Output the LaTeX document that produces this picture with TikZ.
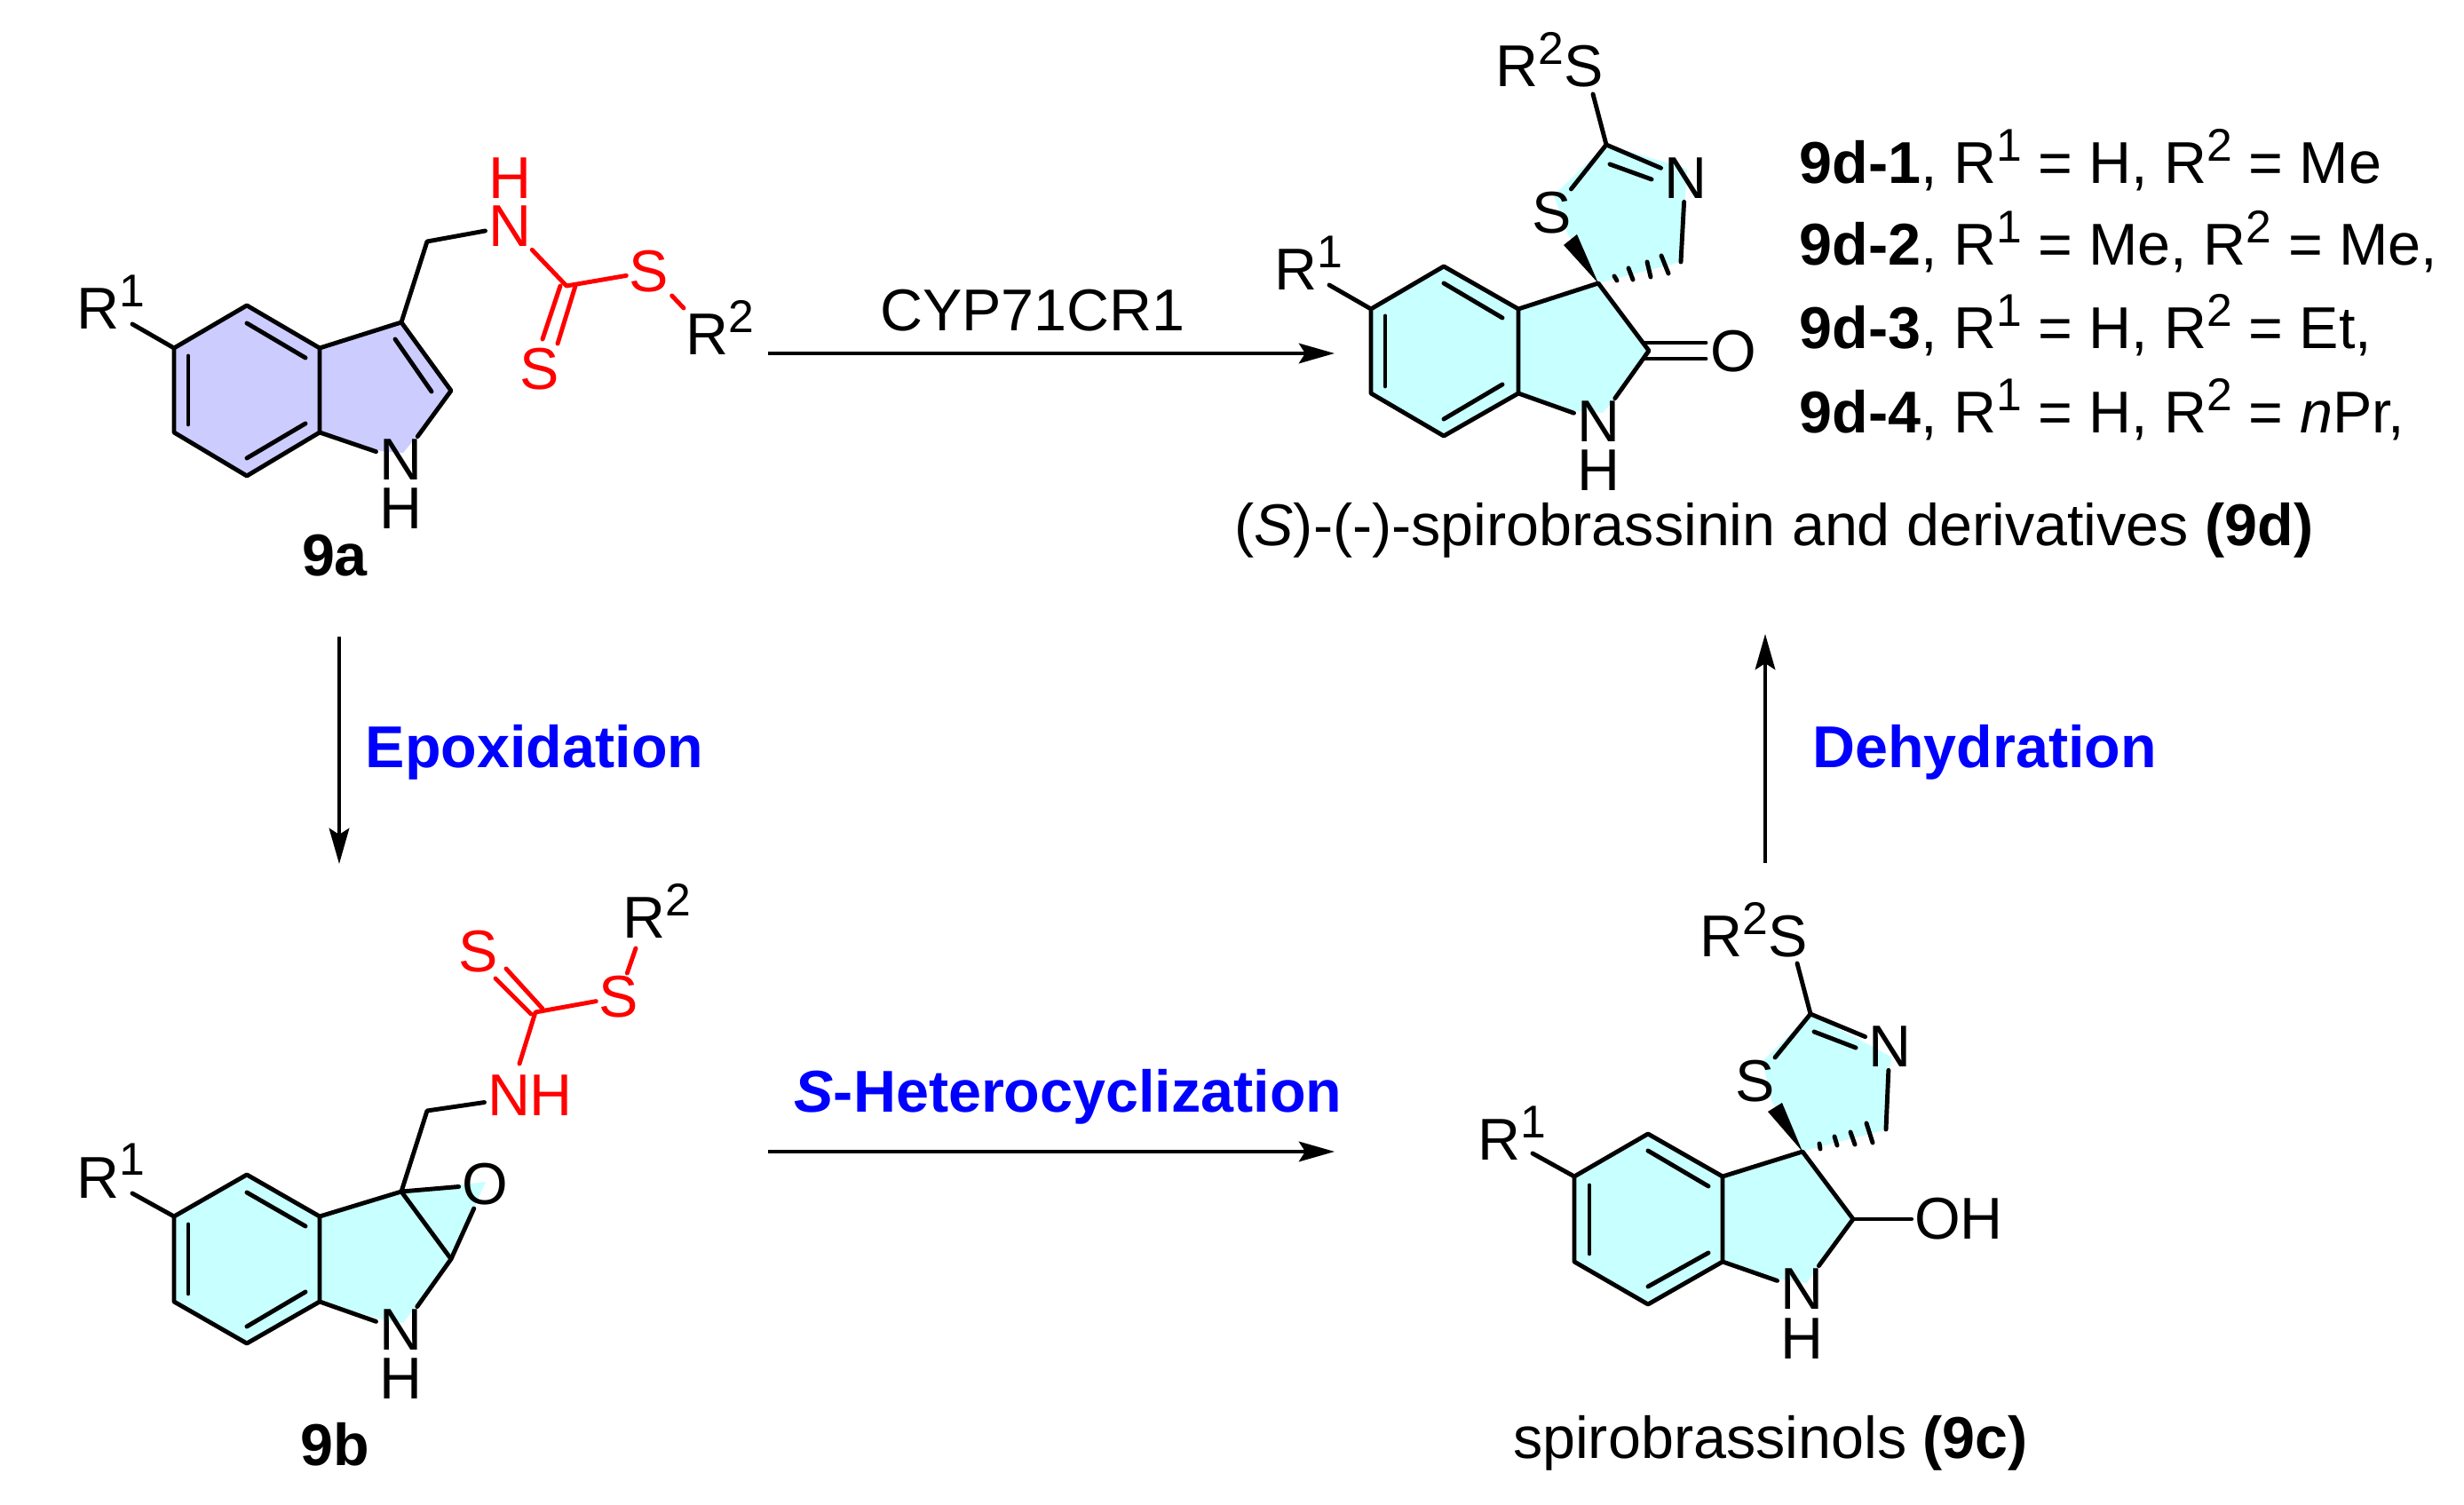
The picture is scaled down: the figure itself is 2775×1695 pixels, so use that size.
\documentclass[tikz,border=0pt]{standalone}
\usepackage{fontspec}
\setmainfont{Liberation Sans}
\usetikzlibrary{arrows.meta}
\newcommand{\chemfont}{\fontsize{18.9}{22}\selectfont}
\newcommand{\upnum}[1]{\raisebox{.39em}{\fontsize{14.7}{16}\selectfont #1}}
\definecolor{ringa}{RGB}{204,204,255}
\definecolor{ringb}{RGB}{200,255,255}
\begin{document}
\begin{tikzpicture}[x=0.01cm,y=0.01cm,
  bond/.style={line width=1.4pt,line cap=round,line join=round},
  rxn/.style={line width=1.2pt,-{Stealth[length=11.4pt,width=6.4pt,inset=2pt]}}]
\tikzstyle{every node}+=[inner sep=0.8pt,font=\chemfont]
\useasboundingbox (0,0) rectangle (2775,-1695);
\coordinate (a1) at (196,-392);
\coordinate (a2) at (278,-344);
\coordinate (a3) at (360,-392);
\coordinate (a4) at (360,-487);
\coordinate (a5) at (278,-536);
\coordinate (a6) at (196,-487);
\coordinate (a7) at (452,-363);
\coordinate (a8) at (508,-440);
\coordinate (a9) at (481,-272);
\coordinate (a10) at (638,-322);
\coordinate (aRe) at (149,-365);
\coordinate (aSe) at (770,-347);
\coordinate (ai1) at (278,-364);
\coordinate (ai2) at (344,-403);
\coordinate (ai3) at (278,-516);
\coordinate (ai4) at (344,-477);
\coordinate (ai5) at (212,-401);
\coordinate (ai6) at (212,-478);
\coordinate (ai7) at (445,-382);
\coordinate (ai8) at (486,-441);
\coordinate (ad1) at (631,-322);
\coordinate (ad2) at (611,-382);
\coordinate (ad3) at (648,-322);
\coordinate (ad4) at (628,-387);
\fill [ringa] (a1) -- (a2) -- (a3) -- (a7) -- (a8) -- (473,-487) -- (454,-510) -- (429,-508) -- (a4) -- (a5) -- (a6) -- cycle;
\node (aN) at (451,-518) {N};
\node (aH) at (451,-573) {H};
\node (aR1) [anchor=base west] at (83,-371) {R\upnum{1}};
\node (aNr) [red] at (574,-255) {N};
\node (aHr) [red] at (574,-201) {H};
\node (aS) [red] at (731,-306) {S};
\node (aSd) [red] at (608,-416) {S};
\node (aR2) [anchor=base west] at (769,-400) {R\upnum{2}};
\node (aLab) at (377,-626) {\bfseries 9a};
\draw [bond] (a3) -- (a2) -- (a1) -- (a6) -- (a5) -- (a4) -- cycle;
\draw [bond] (a1) -- (aRe);
\draw [bond] (a3) -- (a7) -- (a8) -- (aN) -- (a4);
\draw [bond] (a7) -- (a9) -- (aNr);
\draw [bond] (ai1) -- (ai2);
\draw [bond] (ai3) -- (ai4);
\draw [bond] (ai5) -- (ai6);
\draw [bond] (ai7) -- (ai8);
\draw [bond,red] (aNr) -- (a10) -- (aS);
\draw [bond,red] (ad1) -- (ad2);
\draw [bond,red] (ad3) -- (ad4);
\draw [bond,red] (aS) -- (aSe);
\coordinate (b1) at (196,-1370);
\coordinate (b2) at (278,-1323);
\coordinate (b3) at (360,-1370);
\coordinate (b4) at (360,-1466);
\coordinate (b5) at (278,-1513);
\coordinate (b6) at (196,-1466);
\coordinate (b7) at (452,-1342);
\coordinate (b8) at (508,-1418);
\coordinate (b9) at (481,-1251);
\coordinate (b10) at (603,-1140);
\coordinate (bRe) at (149,-1344);
\coordinate (bSe) at (716,-1068);
\coordinate (bNe) at (585,-1198);
\coordinate (bi1) at (278,-1343);
\coordinate (bi2) at (344,-1381);
\coordinate (bi3) at (278,-1494);
\coordinate (bi4) at (344,-1455);
\coordinate (bi5) at (212,-1379);
\coordinate (bi6) at (212,-1457);
\coordinate (bd1) at (598,-1142);
\coordinate (bd2) at (558,-1102);
\coordinate (bd3) at (611,-1136);
\coordinate (bd4) at (570,-1091);
\fill [ringb] (b1) -- (b2) -- (b3) -- (b7) -- (547,-1331) -- (b8) -- (473,-1465) -- (454,-1490) -- (429,-1486) -- (b4) -- (b5) -- (b6) -- cycle;
\node (bN) at (451,-1498) {N};
\node (bH) at (451,-1553) {H};
\node (bO) at (546,-1334) {O};
\node (bR1) [anchor=base west] at (83,-1349) {R\upnum{1}};
\node (bNH) [red] at (597,-1234) {NH};
\node (bS) [red] at (697,-1123) {S};
\node (bSd) [red] at (539,-1072) {S};
\node (bR2) [anchor=base west] at (698,-1057) {R\upnum{2}};
\node (bLab) at (377,-1627) {\bfseries 9b};
\draw [bond] (b3) -- (b2) -- (b1) -- (b6) -- (b5) -- (b4) -- cycle;
\draw [bond] (b1) -- (bRe);
\draw [bond] (b3) -- (b7) -- (b8) -- (bN) -- (b4);
\draw [bond] (b7) -- (bO) -- (b8);
\draw [bond] (b7) -- (b9) -- (bNH);
\draw [bond] (bi1) -- (bi2);
\draw [bond] (bi3) -- (bi4);
\draw [bond] (bi5) -- (bi6);
\draw [bond,red] (bNe) -- (b10) -- (bS);
\draw [bond,red] (bd1) -- (bd2);
\draw [bond,red] (bd3) -- (bd4);
\draw [bond,red] (bS) -- (bSe);
\coordinate (c1) at (1773,-1325);
\coordinate (c2) at (1856,-1277);
\coordinate (c3) at (1940,-1325);
\coordinate (c4) at (1940,-1421);
\coordinate (c5) at (1856,-1469);
\coordinate (c6) at (1773,-1421);
\coordinate (c7) at (2030,-1297);
\coordinate (c8) at (2087,-1373);
\coordinate (c9) at (2124,-1272);
\coordinate (c10) at (2039,-1142);
\coordinate (cRe) at (1726,-1299);
\coordinate (cSe) at (2024,-1085);
\coordinate (ci1) at (1856,-1296);
\coordinate (ci2) at (1924,-1336);
\coordinate (ci3) at (1856,-1449);
\coordinate (ci4) at (1924,-1411);
\coordinate (ci5) at (1790,-1335);
\coordinate (ci6) at (1790,-1412);
\coordinate (ci7) at (2043,-1162);
\coordinate (ci8) at (2090,-1180);
\fill [ringb] (c1) -- (c2) -- (c3) -- (c7) -- (1995,-1240) -- (1985,-1195) -- (c10) -- (2130,-1190) -- (c9) -- (c7) -- (c8) -- (2052,-1420) -- (2035,-1445) -- (2000,-1440) -- (c4) -- (c5) -- (c6) -- cycle;
\node (cN) at (2029,-1452) {N};
\node (cH) at (2029,-1508) {H};
\node (cS) at (1977,-1218) {S};
\node (cNd) at (2128,-1179) {N};
\node (cOH) at (2206,-1373) {OH};
\node (cR1) [anchor=base west] at (1661,-1307) {R\upnum{1}};
\node (cR2) [anchor=base west] at (1911,-1078) {R\upnum{2}S};
\node (cLab) at (1994,-1625) {spirobrassinols \textbf{(9c)}};
\draw [bond] (c3) -- (c2) -- (c1) -- (c6) -- (c5) -- (c4) -- cycle;
\draw [bond] (c1) -- (cRe);
\draw [bond] (c3) -- (c7) -- (c8) -- (cN) -- (c4);
\draw [bond] (c8) -- (cOH);
\draw [bond] (cS) -- (c10) -- (cNd) -- (c9);
\draw [bond] (c10) -- (cSe);
\draw [bond] (ci1) -- (ci2);
\draw [bond] (ci3) -- (ci4);
\draw [bond] (ci5) -- (ci6);
\draw [bond] (ci7) -- (ci8);
\fill (c7) -- (1991,-1252) -- (2007,-1242) -- cycle;
\draw [bond] (2049,-1288) -- (2050,-1294);
\draw [bond] (2066,-1280) -- (2069,-1290);
\draw [bond] (2084,-1275) -- (2089,-1289);
\draw [bond] (2102,-1265) -- (2109,-1287);
\coordinate (d1) at (1544,-348);
\coordinate (d2) at (1626,-300);
\coordinate (d3) at (1710,-348);
\coordinate (d4) at (1710,-443);
\coordinate (d5) at (1626,-491);
\coordinate (d6) at (1544,-443);
\coordinate (d7) at (1800,-319);
\coordinate (d8) at (1857,-395);
\coordinate (d9) at (1893,-295);
\coordinate (d10) at (1809,-163);
\coordinate (dRe) at (1497,-321);
\coordinate (dSe) at (1794,-106);
\coordinate (di1) at (1626,-319);
\coordinate (di2) at (1692,-358);
\coordinate (di3) at (1626,-472);
\coordinate (di4) at (1692,-433);
\coordinate (di5) at (1560,-356);
\coordinate (di6) at (1560,-435);
\coordinate (di7) at (1813,-185);
\coordinate (di8) at (1860,-202);
\coordinate (dd1) at (1853,-386);
\coordinate (dd2) at (1921,-386);
\coordinate (dd3) at (1853,-404);
\coordinate (dd4) at (1921,-404);
\fill [ringb] (d1) -- (d2) -- (d3) -- (d7) -- (1765,-262) -- (1750,-220) -- (d10) -- (1900,-190) -- (d9) -- (d7) -- (d8) -- (1823,-444) -- (1805,-465) -- (1770,-462) -- (d4) -- (d5) -- (d6) -- cycle;
\node (dN) at (1800,-475) {N};
\node (dH) at (1800,-530) {H};
\node (dO) at (1952,-396) {O};
\node (dS) at (1748,-240) {S};
\node (dNd) at (1898,-201) {N};
\node (dR1) [anchor=base west] at (1432,-327) {R\upnum{1}};
\node (dR2) [anchor=base west] at (1681,-98) {R\upnum{2}S};
\node (dLab) at (1998,-597) {(\textit{S})-(-)-spirobrassinin and derivatives \textbf{(9d)}};
\draw [bond] (d3) -- (d2) -- (d1) -- (d6) -- (d5) -- (d4) -- cycle;
\draw [bond] (d1) -- (dRe);
\draw [bond] (d3) -- (d7) -- (d8) -- (dN) -- (d4);
\draw [bond] (dd1) -- (dd2);
\draw [bond] (dd3) -- (dd4);
\draw [bond] (dS) -- (d10) -- (dNd) -- (d9);
\draw [bond] (d10) -- (dSe);
\draw [bond] (di1) -- (di2);
\draw [bond] (di3) -- (di4);
\draw [bond] (di5) -- (di6);
\draw [bond] (di7) -- (di8);
\fill (d7) -- (1761,-276) -- (1776,-264) -- cycle;
\draw [bond] (1818,-311) -- (1821,-316);
\draw [bond] (1834,-302) -- (1839,-315);
\draw [bond] (1855,-295) -- (1859,-312);
\draw [bond] (1871,-288) -- (1879,-308);
\node (lst1) [anchor=base west] at (2023,-207) {\textbf{9d-1}, R\upnum{1} = H, R\upnum{2} = Me};
\node (lst2) [anchor=base west] at (2023,-299) {\textbf{9d-2}, R\upnum{1} = Me, R\upnum{2} = Me,};
\node (lst3) [anchor=base west] at (2023,-393) {\textbf{9d-3}, R\upnum{1} = H, R\upnum{2} = Et,};
\node (lst4) [anchor=base west] at (2023,-488) {\textbf{9d-4}, R\upnum{1} = H, R\upnum{2} = \textit{n}Pr,};
\coordinate (r1s) at (865,-398);
\coordinate (r1e) at (1503,-398);
\coordinate (r2s) at (382,-717);
\coordinate (r2e) at (382,-973);
\coordinate (r3s) at (865,-1297);
\coordinate (r3e) at (1503,-1297);
\coordinate (r4s) at (1988,-972);
\coordinate (r4e) at (1988,-714);
\draw [rxn] (r1s) -- (r1e);
\draw [rxn] (r2s) -- (r2e);
\draw [rxn] (r3s) -- (r3e);
\draw [rxn] (r4s) -- (r4e);
\node (t1) at (1163,-350) {CYP71CR1};
\node (t2) [blue] at (602,-847) {\bfseries Epoxidation};
\node (t3) [blue] at (1203,-1235) {\bfseries\textit{S}-Heterocyclization};
\node (t4) [blue] at (2235,-847) {\bfseries Dehydration};
\end{tikzpicture}
\end{document}
